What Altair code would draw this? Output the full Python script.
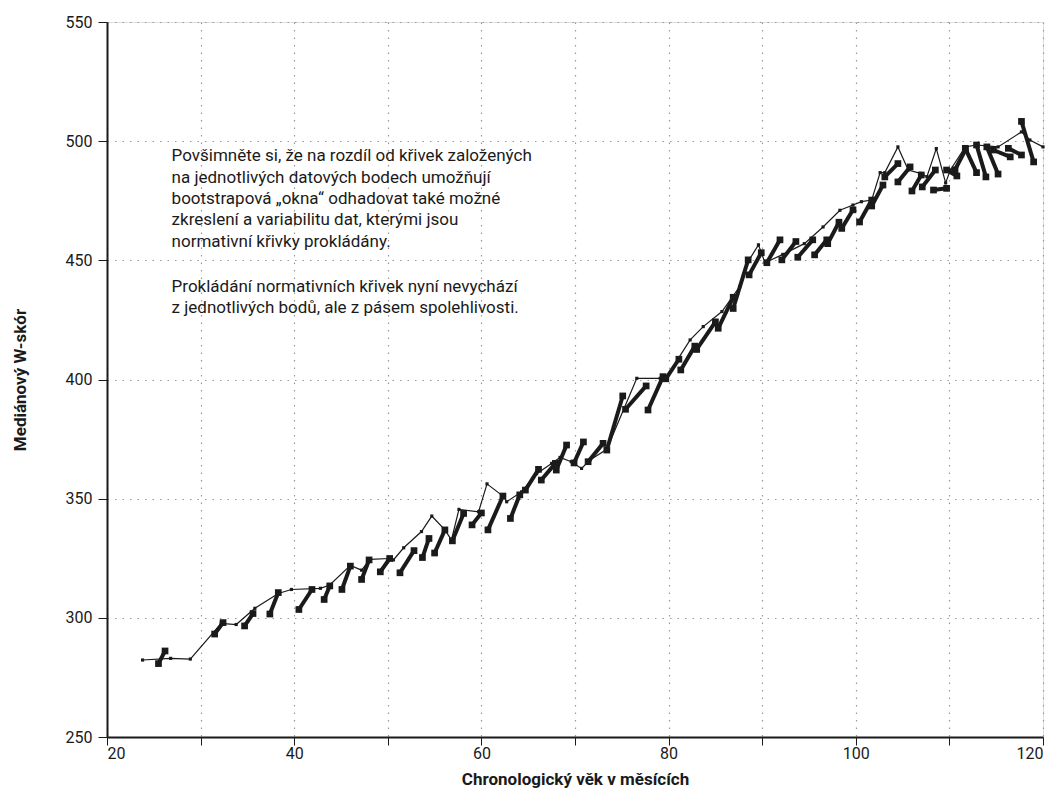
import altair as alt
import pandas as pd

# Thin line: individual data points (month, median W)
thin_x = [23.8, 26.8, 28.9, 32.2, 33.8, 35.8, 38.3, 39.7, 42.8, 43.8, 46.0, 47.2, 48.1, 50.2, 50.6,
          51.7, 53.6, 54.7, 56.1, 56.8, 57.6, 59.7, 60.6, 62.3, 62.7, 64.3, 65.9, 67.5, 68.4, 69.6,
          70.7, 71.6, 73.4, 76.6, 79.1, 79.8, 82.3, 83.7, 85.7, 87.6, 88.5, 89.6, 90.3, 92.2, 94.5,
          96.5, 98.3, 99.7, 100.6, 101.7, 102.6, 103.1, 104.5, 105.6, 106.9, 107.6, 108.6, 109.6,
          110.1, 111.7, 112.9, 114.0, 115.2, 117.7, 118.6, 120.0]
thin_y = [282.3, 283.0, 282.7, 297.7, 297.2, 304.0, 310.2, 311.9, 312.4, 313.8, 322.0, 320.0, 324.5,
          324.9, 324.3, 329.4, 336.2, 342.7, 336.9, 332.7, 345.5, 344.5, 356.2, 351.1, 348.7, 352.9,
          360.5, 364.8, 367.3, 365.5, 362.7, 366.2, 370.7, 400.5, 400.5, 401.2, 416.6, 422.2, 428.5,
          439.0, 449.5, 456.5, 449.0, 452.5, 457.0, 464.0, 471.0, 473.2, 474.6, 475.3, 486.8, 486.8,
          497.6, 487.9, 486.5, 485.1, 496.9, 482.5, 487.9, 497.6, 498.4, 498.0, 497.6, 503.9, 500.5,
          497.6]

# Bootstrap windows: start and end of each thick segment
seg_x1 = [25.5, 31.5, 34.7, 37.4, 40.5, 43.2, 45.1, 47.2, 49.2, 51.3, 53.7, 55.0, 56.9, 59.0, 60.7,
          63.1, 64.7, 66.4, 68.0, 69.9, 71.4, 73.4, 75.4, 77.8, 79.7, 81.3, 83.0, 85.3, 86.9, 88.6,
          90.5, 92.1, 93.8, 95.6, 97.0, 98.5, 100.4, 101.7, 103.1, 104.5, 106.0, 107.1, 108.3, 109.7,
          110.6, 111.7, 112.9, 114.0, 114.7, 116.3, 117.7]
seg_y1 = [280.8, 293.2, 296.6, 301.6, 303.5, 307.7, 311.9, 316.1, 319.3, 318.9, 325.3, 327.2, 332.3,
          339.0, 336.9, 341.7, 353.6, 357.8, 362.0, 365.0, 365.5, 370.4, 387.5, 387.2, 400.3, 404.0,
          412.6, 421.5, 429.8, 443.9, 449.0, 450.2, 451.3, 452.3, 457.0, 463.4, 466.1, 472.8, 485.0,
          482.9, 479.1, 480.8, 479.5, 487.9, 488.0, 497.0, 498.4, 497.6, 496.3, 497.0, 508.3]
seg_x2 = [26.2, 32.4, 35.6, 38.3, 41.9, 43.8, 46.0, 48.0, 50.2, 52.8, 54.4, 56.1, 58.1, 60.0, 62.3,
          64.1, 66.1, 67.9, 69.1, 70.9, 73.0, 75.1, 77.6, 79.4, 81.1, 82.8, 85.0, 86.9, 88.5, 89.9,
          91.9, 93.6, 95.4, 96.9, 98.2, 99.7, 101.7, 102.9, 104.5, 105.8, 107.0, 108.5, 109.7, 110.8,
          111.7, 112.9, 113.9, 115.2, 116.5, 117.7, 119.0]
seg_y2 = [286.1, 298.0, 301.8, 310.6, 311.9, 313.4, 321.7, 324.3, 324.9, 328.2, 333.3, 336.9, 343.8,
          344.0, 351.1, 351.6, 362.3, 364.8, 372.5, 373.8, 373.2, 393.1, 397.3, 401.2, 408.5, 414.0,
          424.2, 434.5, 450.2, 453.2, 458.6, 457.9, 458.6, 458.6, 466.0, 471.2, 475.3, 481.6, 490.6,
          489.2, 485.8, 487.9, 480.2, 485.4, 496.3, 486.8, 485.0, 486.2, 493.4, 494.2, 491.3]

note_par1 = [
    "Povšimněte si, že na rozdíl od křivek založených",
    "na jednotlivých datových bodech umožňují",
    "bootstrapová „okna“ odhadovat také možné",
    "zkreslení a variabilitu dat, kterými jsou",
    "normativní křivky prokládány.",
]
note_par2 = [
    "Prokládání normativních křivek nyní nevychází",
    "z jednotlivých bodů, ale z pásem spolehlivosti.",
]
note_x = [26.9, 26.9]
note_y = [497.0, 442.2]

FONT = "Roboto"
INK = "#1a1a1a"

thin = pd.DataFrame({"x": thin_x, "y": thin_y})
rows = []
for i, (a, b, c, d) in enumerate(zip(seg_x1, seg_y1, seg_x2, seg_y2)):
    rows.append({"seg": i, "x": a, "y": b})
    rows.append({"seg": i, "x": c, "y": d})
segs = pd.DataFrame(rows)

xscale = alt.Scale(domain=[20, 120], nice=False, zero=False)
yscale = alt.Scale(domain=[250, 550], nice=False, zero=False)

xaxis = alt.Axis(values=list(range(20, 121, 10)),
                 labelExpr="datum.value % 20 == 0 ? datum.label : ''",
                 title="Chronologický věk v měsících", titleFontWeight="bold",
                 titleFontSize=17, titlePadding=10, labelFontSize=16, labelPadding=0,
                 tickSize=8, tickColor=INK, domainColor=INK, domainWidth=2,
                 grid=True, gridColor="#999999", gridDash=[1.5, 6], gridWidth=1.2,
                 labelFont=FONT, titleFont=FONT, labelColor=INK, titleColor=INK)
yaxis = alt.Axis(values=list(range(250, 551, 50)),
                 title="Mediánový W-skór", titleFontWeight="bold",
                 titleFontSize=17, titleX=-87, titleY=357.5, titleBaseline="middle",
                 labelFontSize=16, labelPadding=6,
                 tickSize=9, tickColor=INK, domainColor=INK, domainWidth=2,
                 grid=True, gridColor="#999999", gridDash=[1.5, 6], gridWidth=1.2,
                 labelFont=FONT, titleFont=FONT, labelColor=INK, titleColor=INK)

thin_line = alt.Chart(thin).mark_line(color=INK, strokeWidth=1.2).encode(
    x=alt.X("x:Q", scale=xscale, axis=xaxis),
    y=alt.Y("y:Q", scale=yscale, axis=yaxis),
)
thin_pts = alt.Chart(thin).mark_square(color=INK, size=10, opacity=1).encode(
    x=alt.X("x:Q", scale=xscale), y=alt.Y("y:Q", scale=yscale))

seg_line = alt.Chart(segs).mark_line(color=INK, strokeWidth=4).encode(
    x=alt.X("x:Q", scale=xscale), y=alt.Y("y:Q", scale=yscale), detail="seg:N")
seg_pts = alt.Chart(segs).mark_square(color=INK, size=45, opacity=1).encode(
    x=alt.X("x:Q", scale=xscale), y=alt.Y("y:Q", scale=yscale))

notes_df = pd.DataFrame({"x": note_x, "y": note_y,
                         "t": ["\n".join(note_par1), "\n".join(note_par2)]})
note = alt.Chart(notes_df).mark_text(
    align="left", baseline="top", font=FONT, fontSize=17, lineHeight=21.3, color=INK,
    lineBreak="\n").encode(x=alt.X("x:Q", scale=xscale), y=alt.Y("y:Q", scale=yscale), text="t:N")

chart = alt.layer(thin_line, thin_pts, seg_line, seg_pts, note).properties(
    width=936, height=715,
    autosize=alt.AutoSizeParams(type="none"),
    padding={"left": 99, "top": 14, "right": 8, "bottom": 60},
).configure_view(stroke=INK, strokeWidth=1.5).configure(background="white")

chart.save("out.html", embed_options={"renderer": "svg", "actions": False})
